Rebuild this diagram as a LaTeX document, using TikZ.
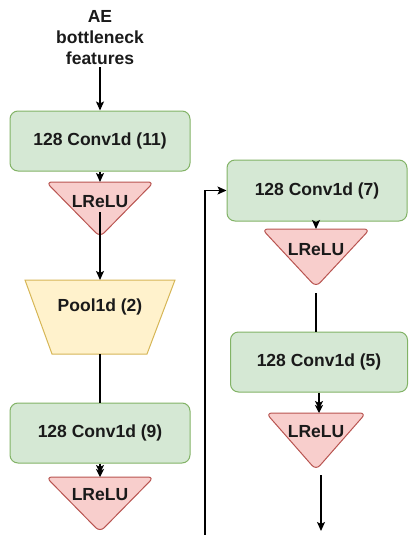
\documentclass[tikz,border=0pt]{standalone}
\usepackage{fontspec}
\setmainfont{Liberation Sans}
\usetikzlibrary{arrows.meta}
\definecolor{convfill}{HTML}{D5E8D4}
\definecolor{convline}{HTML}{82B366}
\definecolor{actfill}{HTML}{F8CECC}
\definecolor{actline}{HTML}{B85450}
\definecolor{poolfill}{HTML}{FFF2CC}
\definecolor{poolline}{HTML}{D6B656}
\definecolor{ink}{HTML}{1A1A1A}
\tikzset{
  lbl/.style={font=\fontsize{17.5}{21}\selectfont\bfseries, text=ink, align=center, inner sep=2pt},
  convbox/.style={lbl, draw=convline, fill=convfill, line width=1pt, rounded corners=8pt,
    minimum width=180pt, minimum height=60pt},
  actshape/.style={draw=actline, fill=actfill, line width=1pt, rounded corners=6pt},
  poolshape/.style={draw=poolline, fill=poolfill, line width=1pt},
  tip/.style={line width=1.2pt, -{Stealth[length=9pt,width=8pt,inset=2pt]}},
  dtip/.style={line width=1.2pt, -{Stealth[length=8pt,width=8pt,inset=2pt,sep=-4pt]Stealth[length=8pt,width=8pt,inset=2pt]}},
  plain/.style={line width=1.2pt},
}
\begin{document}
\begin{tikzpicture}[x=1pt,y=-1pt]
\useasboundingbox (0,0) rectangle (408,535);

% input label
\node[lbl] (in) at (100,38) {AE\\bottleneck\\features};

% left column
\node[convbox] (c1) at (100,141) {128 Conv1d (11)};
\draw[actshape] (46,182) -- (154,182) -- (100,237) -- cycle;
\coordinate (a1top) at (100,182);
\node[lbl] (a1) at (100,202) {LReLU};

\draw[poolshape] (25,280) -- (175,280) -- (147,354) -- (52,354) -- cycle;
\coordinate (p1top) at (100,280);
\coordinate (p1bot) at (100,354);
\node[lbl] (p1) at (100,307) {Pool1d (2)};

\node[convbox] (c2) at (100,433) {128 Conv1d (9)};
\draw[actshape] (46,477) -- (154,477) -- (100,532) -- cycle;
\coordinate (a2top) at (100,477);
\node[lbl] (a2) at (100,495) {LReLU};

% right column
\node[convbox, minimum height=61pt] (c3) at (317,190.5) {128 Conv1d (7)};
\draw[actshape] (262,229) -- (370,229) -- (316,287) -- cycle;
\coordinate (a3top) at (316,229);
\coordinate (a3out) at (316,293);
\node[lbl] (a3) at (316,250) {LReLU};

\node[convbox, minimum width=177pt] (c4) at (319,362) {128 Conv1d (5)};
\draw[actshape] (266,413) -- (366,413) -- (316,470) -- cycle;
\coordinate (a4top) at (319,413);
\node[lbl] (a4) at (316,432) {LReLU};
\coordinate (a4out) at (321,475);
\coordinate (out) at (321,531);

% loop-back line from below
\coordinate (loopin) at (205,545);

% connectors
\draw[tip] (in.south) -- (c1.north);
\draw[tip] (c1.south) -- (a1top);
\draw[tip] ([yshift=-2pt]a1.south) -- (p1top);
\draw[plain] (p1bot) -- (c2.north);
\draw[dtip] (c2.south) -- (a2top);

\draw[tip] (loopin) |- (c3.west);
\draw[tip] (c3.south -| a3top) -- (a3top);
\draw[plain] (a3out) -- (c4.north -| a3out);
\draw[dtip] (c4.south) -- (a4top);
\draw[tip] (a4out) -- (out);
\end{tikzpicture}
\end{document}
